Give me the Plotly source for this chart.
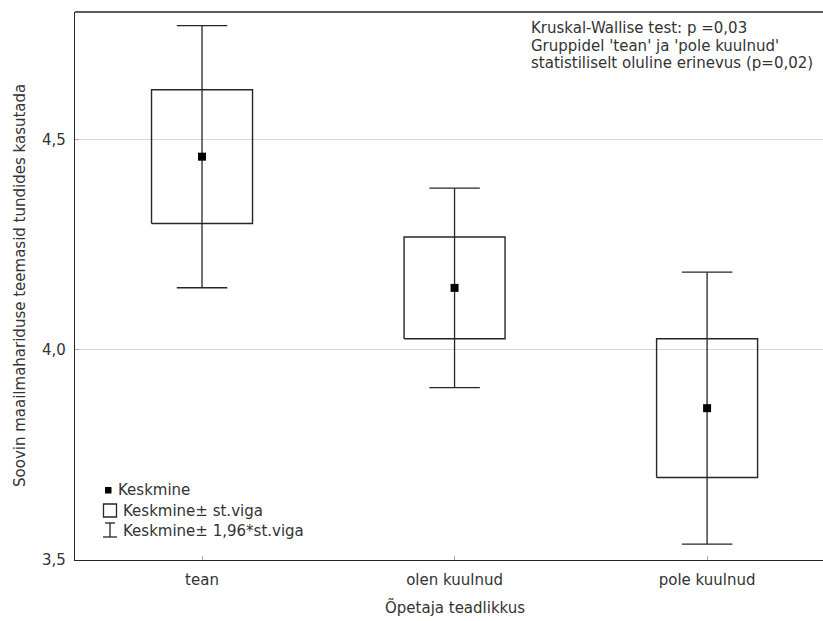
import plotly.graph_objects as go

# Group means and standard errors of the rating
categories = ["tean", "olen kuulnud", "pole kuulnud"]
means = [4.459, 4.147, 3.861]
std_errors = [0.159, 0.121, 0.165]
z_value = 1.96

y_tick_values = [3.5, 4.0, 4.5]
y_tick_labels = ["3,5", "4,0", "4,5"]

stat_lines = [
    "Kruskal-Wallise test: p =0,03",
    "Gruppidel 'tean' ja 'pole kuulnud'",
    "statistiliselt oluline erinevus (p=0,02)",
]
legend_labels = ["Keskmine", "Keskmine\u00b1 st.viga", "Keskmine\u00b1 1,96*st.viga"]

FONT = "DejaVu Sans, Arial, sans-serif"
TEXT = "#333333"
INK = "#262626"
FS = 15

W, H = 823, 621
ML, MR, MT, MB = 75, 0, 12, 61
PW, PH = W - ML - MR, H - MT - MB


def fx(px):
    return (px - ML) / PW


def fy(py):
    return (H - MB - py) / PH


BOX_HALF = 0.2
CAP_HALF = 0.1

fig = go.Figure()

# whiskers: mean +/- 1.96 * SE with caps
wx, wy = [], []
for i, (m, se) in enumerate(zip(means, std_errors)):
    lo, hi = m - z_value * se, m + z_value * se
    wx += [i, i, None, i - CAP_HALF, i + CAP_HALF, None, i - CAP_HALF, i + CAP_HALF, None]
    wy += [lo, hi, None, lo, lo, None, hi, hi, None]
fig.add_trace(go.Scatter(x=wx, y=wy, mode="lines",
                         line=dict(color=INK, width=1.3), hoverinfo="skip"))

# boxes: mean +/- SE
bx, by = [], []
for i, (m, se) in enumerate(zip(means, std_errors)):
    lo, hi = m - se, m + se
    bx += [i - BOX_HALF, i + BOX_HALF, i + BOX_HALF, i - BOX_HALF, i - BOX_HALF, None]
    by += [lo, lo, hi, hi, lo, None]
fig.add_trace(go.Scatter(x=bx, y=by, mode="lines",
                         line=dict(color=INK, width=1.4), hoverinfo="skip"))

# means
fig.add_trace(go.Scatter(x=list(range(len(categories))), y=means, mode="markers",
                         marker=dict(symbol="square", size=8, color="black")))

shapes = [
    # top frame line
    dict(type="line", xref="paper", yref="paper", x0=0, x1=1, y0=1, y1=1,
         line=dict(color=INK, width=1.4)),
    # legend icons
    dict(type="rect", xref="paper", yref="paper",
         x0=fx(105), x1=fx(111.5), y0=fy(493.5), y1=fy(487),
         fillcolor="black", line=dict(width=0)),
    dict(type="rect", xref="paper", yref="paper",
         x0=fx(103.5), x1=fx(116.5), y0=fy(517), y1=fy(504),
         line=dict(color=INK, width=1.3)),
    dict(type="line", xref="paper", yref="paper",
         x0=fx(110), x1=fx(110), y0=fy(537), y1=fy(523),
         line=dict(color=INK, width=1.3)),
    dict(type="line", xref="paper", yref="paper",
         x0=fx(105), x1=fx(115), y0=fy(523), y1=fy(523),
         line=dict(color=INK, width=1.3)),
    dict(type="line", xref="paper", yref="paper",
         x0=fx(103), x1=fx(117), y0=fy(537), y1=fy(537),
         line=dict(color=INK, width=1.3)),
]

annotations = []
for txt, ypx in zip(stat_lines, [28, 45.5, 63]):
    annotations.append(dict(text=txt, xref="paper", yref="paper", x=fx(529), y=fy(ypx),
                            xanchor="left", yanchor="middle", showarrow=False,
                            font=dict(family=FONT, size=FS, color=TEXT)))
for txt, xpx, ypx in zip(legend_labels, [116, 121, 121], [490, 510.5, 531]):
    annotations.append(dict(text=txt, xref="paper", yref="paper", x=fx(xpx), y=fy(ypx),
                            xanchor="left", yanchor="middle", showarrow=False,
                            font=dict(family=FONT, size=FS, color=TEXT)))
# axis titles
annotations.append(dict(text="Soovin maailmahariduse teemasid tundides kasutada",
                        xref="paper", yref="paper", x=fx(20), y=0.5, textangle=-90,
                        xanchor="center", yanchor="middle", showarrow=False,
                        font=dict(family=FONT, size=FS, color=TEXT)))
annotations.append(dict(text="\u00d5petaja teadlikkus", xref="x", yref="paper",
                        x=1, y=fy(608), xanchor="center", yanchor="middle",
                        showarrow=False, font=dict(family=FONT, size=FS, color=TEXT)))

fig.update_layout(
    width=W, height=H, autosize=False,
    margin=dict(l=ML, r=MR, t=MT, b=MB, pad=0),
    paper_bgcolor="white", plot_bgcolor="white",
    showlegend=False,
    font=dict(family=FONT, size=FS, color=TEXT),
    shapes=shapes, annotations=annotations,
    xaxis=dict(range=[-0.503, 2.459], tickvals=list(range(len(categories))),
               ticktext=categories, showgrid=False, zeroline=False,
               showline=True, linecolor=INK, linewidth=1.4,
               ticks="inside", ticklen=4, tickcolor="#aaaaaa", tickwidth=1,
               ticklabelstandoff=6, tickfont=dict(family=FONT, size=FS, color=TEXT)),
    yaxis=dict(range=[3.5, 4.803], tickvals=y_tick_values, ticktext=y_tick_labels,
               showgrid=True, gridcolor="#d6d6d6", gridwidth=1, zeroline=False,
               showline=True, linecolor=INK, linewidth=1.4,
               ticks="inside", ticklen=4, tickcolor="#aaaaaa", tickwidth=1,
               ticklabelstandoff=5, tickfont=dict(family=FONT, size=FS, color=TEXT)),
)

fig.write_html("out.html")
